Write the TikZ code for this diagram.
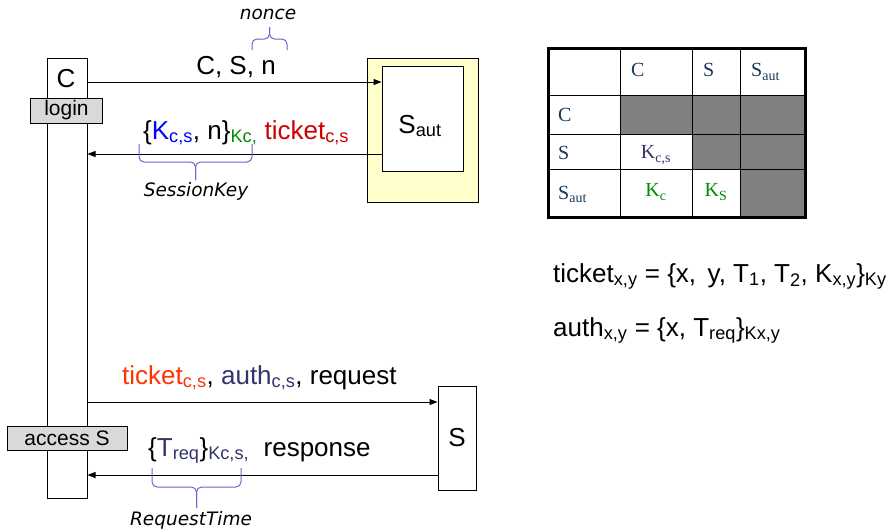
\documentclass[tikz,border=0pt]{standalone}
\usepackage{fontspec}
\setmainfont{Liberation Sans}
\newfontfamily\tabfont{Liberation Serif}
\newfontfamily\notefont{DejaVu Sans}
\usetikzlibrary{arrows.meta, positioning, calc}
\definecolor{ticketred}{RGB}{204,0,0}
\definecolor{ticketorange}{RGB}{255,51,0}
\definecolor{keyblue}{RGB}{0,0,255}
\definecolor{keygreen}{RGB}{0,140,0}
\definecolor{authnavy}{RGB}{51,51,110}
\definecolor{tabnavy}{RGB}{23,54,93}
\definecolor{tabgray}{RGB}{128,128,128}
\definecolor{phasegray}{RGB}{217,217,217}
\definecolor{sautyellow}{RGB}{255,255,204}
\definecolor{bracecol}{RGB}{102,102,204}
\newcommand{\sub}[1]{\textsubscript{#1}}

\tikzset{
  lifeline/.style={draw, fill=white, line width=1pt, inner sep=0pt, font=\fontsize{26}{30}\selectfont},
  phasebox/.style={draw, fill=phasegray, line width=1pt, inner sep=0pt, font=\fontsize{21}{24}\selectfont},
  msg/.style={-{Triangle[length=8pt,width=6pt]}, line width=1pt},
  msgtext/.style={font=\fontsize{26}{30}\selectfont, anchor=base west, inner sep=0pt},
  notebrace/.style={draw=bracecol, line width=1pt, rounded corners=5pt},
  notetext/.style={font=\notefont\itshape\fontsize{18.5}{22}\selectfont},
  cell/.style={font=\tabfont\fontsize{20}{23}\selectfont, text=tabnavy, inner sep=0pt}
}

\begin{document}
\begin{tikzpicture}[x=1pt, y=-1pt]
  \useasboundingbox (0,0) rectangle (888,530);

  % client lifeline
  \node[lifeline, minimum width=40pt, minimum height=440pt] (cbar) at (67,278) {};
  \node[font=\fontsize{26}{30}\selectfont] (clabel) at (66,79) {C};
  \node[phasebox, minimum width=72pt, minimum height=25pt] (login) at (66.5,110.5) {login};
  \node[phasebox, minimum width=120pt, minimum height=24pt] (access) at (67,438) {access S};

  % servers
  \node[draw, fill=sautyellow, line width=1pt, minimum width=111pt, minimum height=144pt] (sautbg) at (422.5,130) {};
  \node[lifeline, minimum width=81pt, minimum height=105pt] (saut) at (422.5,118.5) {};
  \node[font=\fontsize{26}{30}\selectfont] (sautlabel) at (420,126) {S\sub{aut}};
  \node[lifeline, minimum width=38pt, minimum height=104pt] (sbox) at (457,438) {S};

  % messages
  \coordinate (y1) at (0,82);
  \coordinate (y2) at (0,154);
  \coordinate (y3) at (0,402);
  \coordinate (y4) at (0,475);
  \draw[msg] (cbar.east |- y1) -- (saut.west |- y1);
  \draw[msg] (saut.west |- y2) -- (cbar.east |- y2);
  \draw[msg] (cbar.east |- y3) -- (sbox.west |- y3);
  \draw[msg] (sbox.west |- y4) -- (cbar.east |- y4);

  \node[msgtext, anchor=base] (m1) at (236,74) {C, S, n};
  \node[msgtext] (m2) at (143,139) {\{\textcolor{keyblue}{K\sub{c,s}}, n\}\textcolor{keygreen}{\sub{Kc,}} \textcolor{ticketred}{ticket\sub{c,s}}};
  \node[msgtext] (m3) at (122,384) {\textcolor{ticketorange}{ticket\sub{c,s}}, \textcolor{authnavy}{auth\sub{c,s}}, request};
  \node[msgtext] (m4) at (148,456) {\{\textcolor{authnavy}{T\sub{req}}\}\textcolor{authnavy}{\sub{Kc,s,}}\ \ response};

  % braces: left x / right x / end y / bar y / tip y
  \foreach \xa/\xb/\ya/\yb/\yc in {252/287/50/39/27, 139/252/144/162/180, 152/241/468/487/508} {
    \draw[notebrace] (\xa,\ya) |- ({(\xa+\xb)/2},\yb) -- ({(\xa+\xb)/2},\yc);
    \draw[notebrace] (\xb,\ya) |- ({(\xa+\xb)/2},\yb) -- ({(\xa+\xb)/2},\yc);
  }
  \node[notetext] (nonce) at (268,14) {nonce};
  \node[notetext] (sesskey) at (196,191) {SessionKey};
  \node[notetext] (reqtime) at (191,520) {RequestTime};

  % key table
  \fill[tabgray] (620,95) rectangle (805,134);
  \fill[tabgray] (692,134) rectangle (805,169);
  \fill[tabgray] (740,169) rectangle (805,217);
  \foreach \x in {620,692,740} \draw[line width=1pt] (\x,48) -- (\x,217);
  \foreach \y in {95,134,169} \draw[line width=1pt] (548,\y) -- (805,\y);
  \draw[line width=3pt] (548,48) rectangle (805,217);
  \node[cell, anchor=west] (hc) at (631,70) {C};
  \node[cell, anchor=west] (hs) at (703,70) {S};
  \node[cell, anchor=west] (hsaut) at (751,72) {S\sub{aut}};
  \node[cell, anchor=west] (rc) at (558,115) {C};
  \node[cell, anchor=west] (rs) at (558,153) {S};
  \node[cell, anchor=west] (rsaut) at (558,194) {S\sub{aut}};
  \node[cell, text=authnavy] (kcs) at (656,155) {K\sub{c,s}};
  \node[cell, text=keygreen] (kc) at (656,192) {K\sub{c}};
  \node[cell, text=keygreen] (ks) at (716,192) {K\sub{S}};

  % definitions
  \node[msgtext] (ticketdef) at (553,282) {ticket\sub{x,y} = \{x,\, y, T\sub{1}, T\sub{2}, K\sub{x,y}\}\sub{Ky}};
  \node[msgtext] (authdef) at (553,336) {auth\sub{x,y} = \{x, T\sub{req}\}\sub{Kx,y}};
\end{tikzpicture}
\end{document}
